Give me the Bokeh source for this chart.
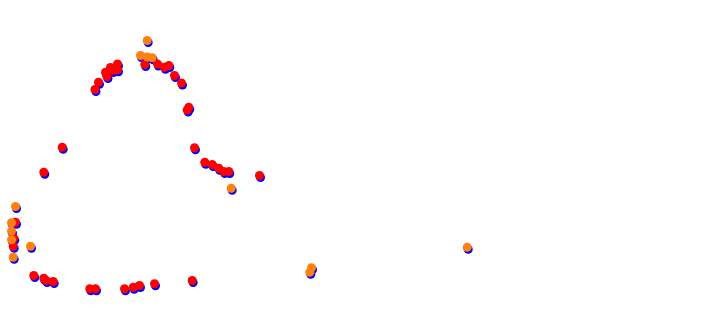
from bokeh.plotting import figure
from bokeh.models import Range1d, ColumnDataSource
from bokeh.transform import dodge
from bokeh.embed import file_html
from bokeh.resources import INLINE

red_x = [94.5, 98, 106.5, 105, 110, 117, 117, 112,
         144.3, 157, 164, 168.3, 174, 181,
         186.7, 188.3, 194, 61.7, 43.3,
         204.3, 211.7, 218.3, 223.3, 228.3, 259,
         15, 13.3, 12.7,
         33.3, 43.3, 45.7, 52.7, 89.3, 95, 124, 132.7, 139, 154, 191.7]
red_y = [89, 81.7, 76, 71.7, 67, 63.5, 69.3, 70,
         64, 63.5, 66.7, 65, 75, 82.5,
         109.5, 106.7, 147.3, 146.7, 171.7,
         161.7, 164, 167.7, 171, 171, 175,
         221.7, 237.7, 245.7,
         275, 277.7, 280, 281, 288.3, 288.3, 288.3, 286.7, 285, 283.3, 280]

orange_x = [146.7, 140, 146.7, 151.7, 230.7, 15, 11, 11, 11, 30, 12.7, 311, 309.3, 466.7]
orange_y = [40, 55, 56.5, 57.3, 187.7, 206, 222.3, 230.7, 239.3, 245.7, 256.7, 267.3, 271.7, 246.7]

p = figure(width=714, height=310, output_backend="svg", toolbar_location=None,
           x_range=Range1d(0, 714), y_range=Range1d(310, 0), min_border=0)
p.axis.visible = False
p.grid.visible = False
p.outline_line_color = None
p.background_fill_color = "white"
p.border_fill_color = "white"

red_src = ColumnDataSource(dict(x=red_x, y=red_y))
orange_src = ColumnDataSource(dict(x=orange_x, y=orange_y))

for src in (red_src, orange_src):
    p.scatter(x=dodge("x", 1, range=p.x_range), y=dodge("y", 2, range=p.y_range),
              source=src, size=9, color="#0000ff", line_color=None)

p.scatter(x="x", y="y", source=red_src, size=9, color="#ff0000", line_color=None)
p.scatter(x="x", y="y", source=orange_src, size=9, color="#ff8010", line_color=None)

open("out.html", "w").write(file_html(p, INLINE))
